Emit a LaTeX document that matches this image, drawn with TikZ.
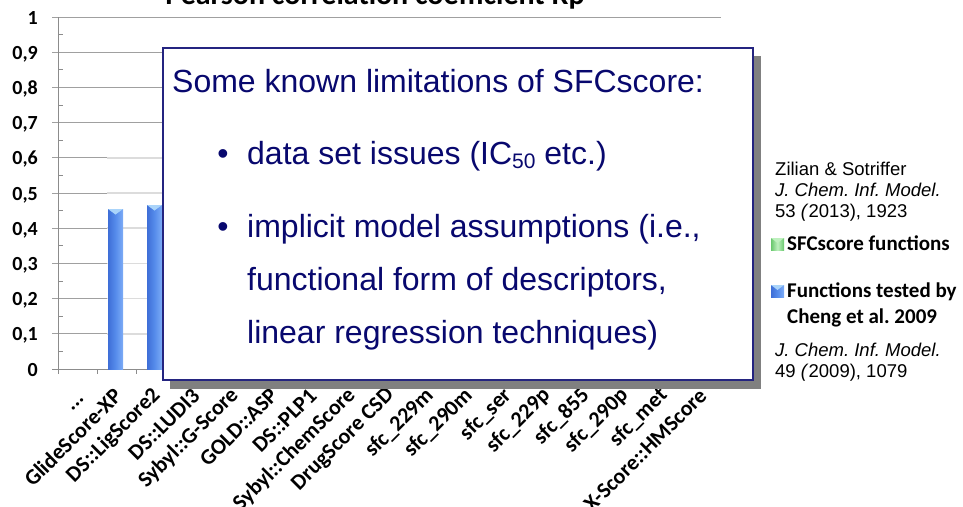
\documentclass[tikz,border=0pt]{standalone}
\usepackage{fontspec}
\setmainfont{Liberation Sans}
\newfontfamily\calibri{Carlito}
\frenchspacing
\definecolor{navytext}{RGB}{8,8,110}
\definecolor{navyline}{RGB}{36,36,128}
\definecolor{griddark}{RGB}{160,160,160}
\definecolor{gridlight}{RGB}{220,220,220}
\definecolor{axisgray}{RGB}{140,140,140}
\definecolor{barleft}{RGB}{62,110,215}
\definecolor{barmid}{RGB}{86,140,235}
\definecolor{barright}{RGB}{125,172,246}
\definecolor{barcap}{RGB}{170,212,250}
\definecolor{shadowgray}{RGB}{128,128,128}
\definecolor{greenA}{RGB}{105,200,110}
\definecolor{greenB}{RGB}{190,240,190}
\tikzset{
  ylab/.style={anchor=base east, inner sep=0, font=\calibri\bfseries\fontsize{20}{24}\selectfont},
  xlab/.style={anchor=east, rotate=45, inner sep=0, font=\calibri\bfseries\fontsize{22}{26}\selectfont},
  boxtext/.style={anchor=base west, inner sep=0, text=navytext, font=\fontsize{32}{38}\selectfont},
  bullettext/.style={anchor=base, inner sep=0, text=navytext, font=\fontsize{32}{38}\selectfont},
  reftext/.style={anchor=base west, inner sep=0, font=\fontsize{18.5}{22}\selectfont},
  legtext/.style={anchor=base west, inner sep=0, font=\calibri\bfseries\fontsize{21}{25}\selectfont},
  gridline/.style={draw=griddark, line width=1pt},
  gridfaint/.style={draw=gridlight, line width=1.6pt},
  axisline/.style={draw=axisgray, line width=1pt},
}
\begin{document}
\begin{tikzpicture}[x=1pt,y=-1pt]
\useasboundingbox (0,0) rectangle (963,506);
% title (cut by the top edge)
\begin{scope}
  \clip (0,0) rectangle (963,506);
  \node[anchor=base, inner sep=0, font=\calibri\bfseries\fontsize{30}{32}\selectfont] (title) at (375,5) {Pearson correlation coefficient Rp};
\end{scope}
% gridlines
\foreach \i in {1,...,10}{
  \pgfmathsetmacro\yy{369-35.2*\i}
  \draw[gridline] (52,\yy) -- (721,\yy);
}
\foreach \i in {1,...,6}{
  \pgfmathsetmacro\yy{369-35.2*\i}
  \draw[gridfaint] (107,\yy) -- (721,\yy);
}
% minor ticks
\foreach \i in {0,...,9}{
  \pgfmathsetmacro\yy{369-35.2*\i-17.6}
  \draw[axisline] (58,\yy) -- (63,\yy);
}
% axes
\draw[axisline] (58,17) -- (58,369);
\draw[axisline] (52,369) -- (721,369);
\foreach \k in {0,...,17}{
  \draw[axisline] ({58+39*\k},369) -- ({58+39*\k},374);
}
% y labels
\foreach \i/\t in {0/0,1/{0,1},2/{0,2},3/{0,3},4/{0,4},5/{0,5},6/{0,6},7/{0,7},8/{0,8},9/{0,9},10/1}{
  \pgfmathsetmacro\yy{369-35.2*\i+7}
  \node[ylab] (yl\i) at (38,\yy) {\t};
}
% x labels
\node[xlab] (xl0) at (84,398) {...};
\foreach \lab [count=\i from 1] in {GlideScore-XP,DS::LigScore2,DS::LUDI3,Sybyl::G-Score,GOLD::ASP,DS::PLP1,Sybyl::ChemScore,DrugScore CSD,sfc\_229m,sfc\_290m,sfc\_ser,sfc\_229p,sfc\_855,sfc\_290p,sfc\_met,X-Score::HMScore}{
  \node[xlab] (xl\i) at ({58+39*(\i+0.5)+1.5},392) {\lab};
}
% bars
\shade[left color=barleft, right color=barright, middle color=barmid] (108,369) rectangle (123,209);
\fill[barcap] (108,209) -- (123,209) -- (115.5,214.5) -- cycle;
\shade[left color=barleft, right color=barright, middle color=barmid] (147,369) rectangle (162,205);
\fill[barcap] (147,205) -- (162,205) -- (154.5,210.5) -- cycle;
% box with shadow
\fill[shadowgray] (170,56) rectangle (761,389);
\node[draw=navyline, line width=2.2pt, fill=white, anchor=north west, inner sep=0,
      minimum width=590pt, minimum height=332pt] (box) at (162,47) {};
\node[boxtext] (head) at (172,92) {Some known limitations of SFCscore:};
\node[bullettext] (b1) at (223,164) {•};
\node[boxtext] (t1) at (247,164) {data set issues (IC\raisebox{-0.28ex}{\fontsize{21}{21}\selectfont 50} etc.)};
\node[bullettext] (b2) at (223,237) {•};
\node[boxtext] (t2) at (247,237) {implicit model assumptions (i.e.,};
\node[boxtext] (t3) at (247,290) {functional form of descriptors,};
\node[boxtext] (t4) at (247,343) {linear regression techniques)};
% references and legend
\node[reftext] (r1) at (775,175) {Zilian \& Sotriffer};
\node[reftext] (r2) at (775,196) {\itshape J. Chem. Inf. Model.};
\node[reftext] (r3) at (775,217) {53 \textit{(}2013), 1923};
\shade[left color=greenA, right color=greenA, middle color=greenB] (771,238) rectangle (784,250);
\fill[greenB] (771,238) -- (784,238) -- (777.5,243) -- cycle;
\node[legtext] (l1) at (787,250) {SFCscore functions};
\shade[left color=barleft, right color=barright, middle color=barmid] (771,285) rectangle (784,297);
\fill[barcap] (771,285) -- (784,285) -- (777.5,290) -- cycle;
\node[legtext] (l2) at (787,297) {Functions tested by};
\node[legtext] (l3) at (787,323) {Cheng et al. 2009};
\node[reftext] (r4) at (775,356) {\itshape J. Chem. Inf. Model.};
\node[reftext] (r5) at (775,377) {49 \textit{(}2009), 1079};
\end{tikzpicture}
\end{document}
